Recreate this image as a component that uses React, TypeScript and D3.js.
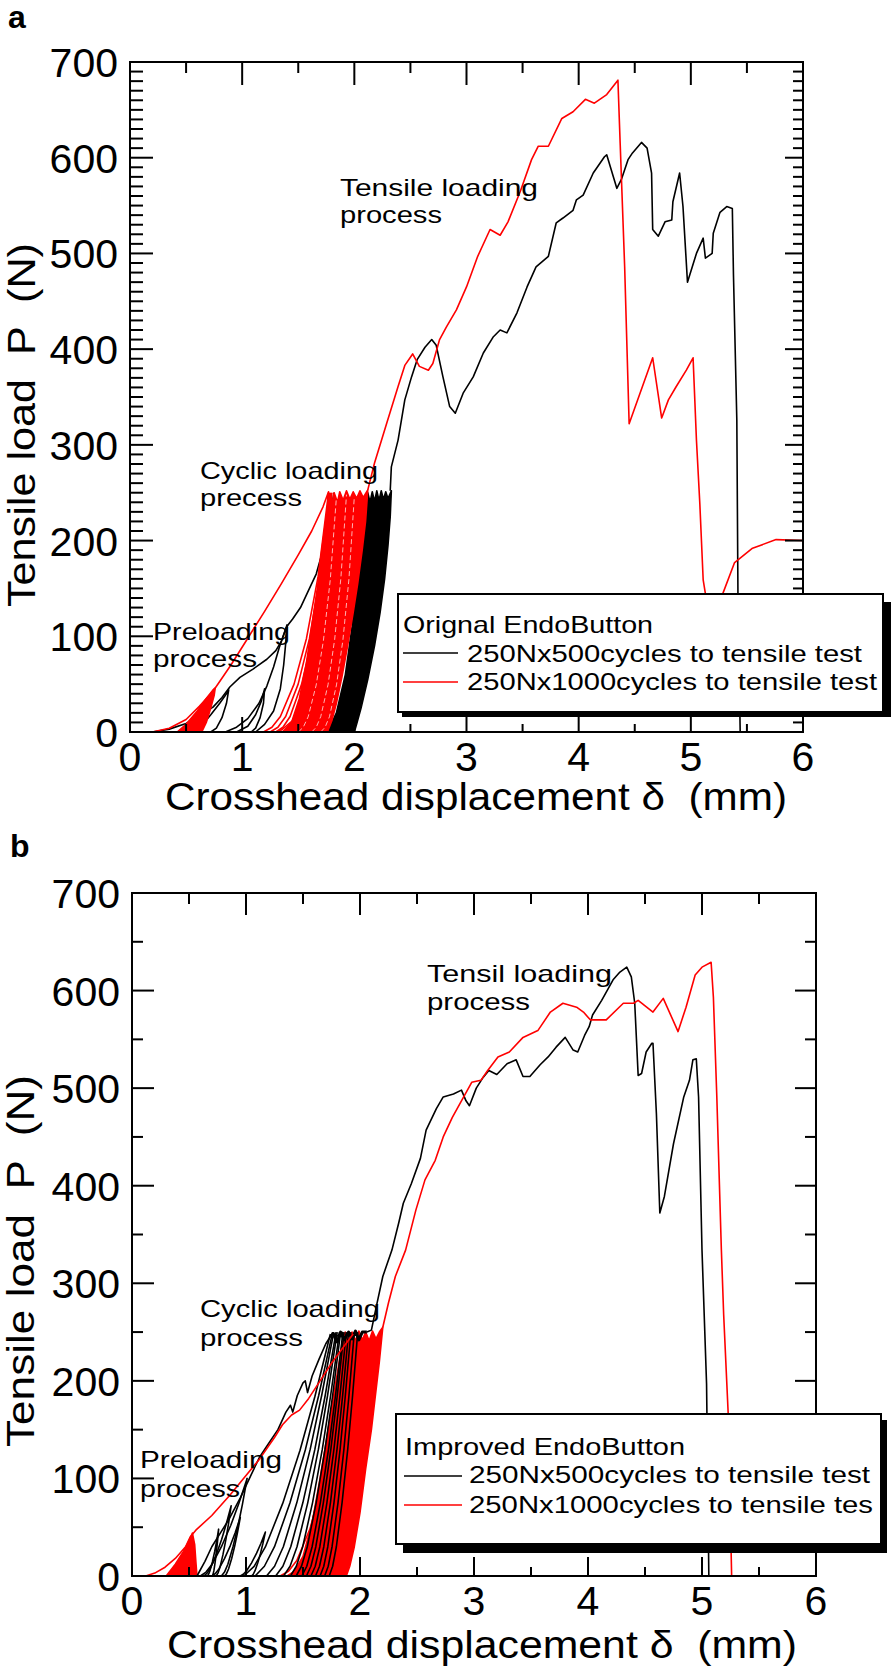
import React from 'react';
import * as d3 from 'd3';

type Pt = [number, number];

// ---------- axes ----------
const X_TICKS = [0, 1, 2, 3, 4, 5, 6];
const X_MINOR = [0.5, 1.5, 2.5, 3.5, 4.5, 5.5];
const Y_TICKS = [0, 100, 200, 300, 400, 500, 600, 700];
const A_Y_MINOR = d3.range(10, 700, 10).filter((v) => v % 100 !== 0);
const B_Y_MINOR = [50, 150, 250, 350, 450, 550, 650];

// normalised shape of one loading branch (fraction of span, fraction of peak)
const CYCLE_SHAPE: Pt[] = [[0, 0], [0.13, 0.02], [0.26, 0.065], [0.47, 0.2], [0.66, 0.39], [0.84, 0.65], [1, 1]];
const STRAIGHT_SHAPE: Pt[] = [[0, 0], [0.12, 0.04], [0.25, 0.12], [0.45, 0.3], [0.65, 0.52], [0.82, 0.74], [1, 1]];

// ---------- panel a : Original EndoButton ----------
const A_BLACK_TENSILE: Pt[] = [
  [2.32, 252], [2.33, 277], [2.39, 305], [2.45, 347], [2.51, 371], [2.56, 389], [2.63, 402], [2.69, 410], [2.73, 404],
  [2.79, 371], [2.85, 340], [2.9, 333], [2.97, 354], [3.06, 371], [3.15, 396], [3.24, 413], [3.3, 420], [3.36, 417],
  [3.45, 438], [3.54, 465], [3.62, 486], [3.73, 497], [3.8, 532], [3.86, 537], [3.95, 545], [3.98, 556], [4.04, 561],
  [4.13, 584], [4.23, 601], [4.25, 603], [4.34, 568], [4.38, 577], [4.44, 598], [4.48, 605], [4.56, 616], [4.61, 610],
  [4.65, 584], [4.66, 525], [4.71, 518], [4.77, 533], [4.83, 535], [4.84, 554], [4.9, 584], [4.93, 549], [4.97, 470],
  [5.05, 500], [5.11, 516], [5.13, 495], [5.19, 500], [5.2, 521], [5.26, 543], [5.32, 549], [5.37, 547], [5.38, 478],
  [5.41, 326], [5.42, 145], [5.44, 0],
];
const A_RED_TENSILE: Pt[] = [
  [2.12, 253], [2.18, 281], [2.29, 323], [2.39, 361], [2.45, 383], [2.52, 395], [2.58, 382], [2.66, 378], [2.7, 385],
  [2.76, 410], [2.82, 423], [2.91, 441], [3.0, 465], [3.1, 497], [3.21, 525], [3.3, 519], [3.37, 533], [3.48, 565],
  [3.58, 598], [3.64, 612], [3.73, 612], [3.85, 641], [3.95, 648], [4.06, 661], [4.14, 657], [4.25, 666], [4.35, 681],
  [4.37, 615], [4.41, 486], [4.45, 322], [4.66, 391], [4.74, 328], [4.8, 347], [4.87, 361], [4.96, 378], [5.02, 391],
  [5.05, 305], [5.08, 239], [5.11, 159], [5.15, 130], [5.2, 128], [5.28, 143], [5.39, 177], [5.55, 192], [5.76, 201],
  [6.0, 200],
];
const A_RED_FIRST: Pt[] = [
  [0, 0], [0.2, 0], [0.35, 4], [0.5, 13], [0.62, 27], [0.72, 40], [0.76, 46], [0.9, 70], [1.05, 98], [1.2, 126],
  [1.35, 155], [1.5, 185], [1.62, 210], [1.72, 235], [1.77, 251], [1.76, 230], [1.74, 200], [1.71, 160], [1.67, 120],
  [1.62, 80], [1.55, 40], [1.45, 12], [1.35, 2], [1.3, 0],
];
const A_RED_PRE: Pt[] = [[0.42, 0], [0.5, 8], [0.6, 22], [0.68, 35], [0.74, 44], [0.76, 46], [0.75, 38], [0.72, 25], [0.68, 10], [0.64, 0]];
const A_RED_BAND_LEFT: Pt[] = [[1.36, 0], [1.44, 10], [1.51, 35], [1.57, 70], [1.62, 110], [1.67, 150], [1.71, 190], [1.75, 225], [1.78, 248]];
const A_RED_BAND_TOP: Pt[] = [[1.8, 238], [1.82, 250], [1.85, 240], [1.87, 251], [1.9, 242], [1.93, 252], [1.96, 243], [1.99, 251], [2.02, 244], [2.05, 252], [2.08, 245], [2.12, 253]];
const A_RED_BAND_RIGHT: Pt[] = [[2.1, 220], [2.07, 190], [2.03, 155], [1.99, 125], [1.94, 90], [1.89, 58], [1.84, 30], [1.8, 12], [1.76, 0]];
const A_BLACK_BAND_LEFT: Pt[] = [[1.76, 0], [1.84, 20], [1.92, 60], [1.98, 110], [2.03, 160], [2.07, 200], [2.1, 235], [2.12, 250]];
const A_BLACK_BAND_TOP: Pt[] = [[2.14, 240], [2.16, 251], [2.18, 241], [2.2, 252], [2.22, 242], [2.24, 252], [2.26, 243], [2.28, 251], [2.3, 244], [2.33, 252]];
const A_BLACK_BAND_RIGHT: Pt[] = [[2.32, 225], [2.3, 195], [2.27, 160], [2.23, 125], [2.18, 90], [2.12, 55], [2.06, 25], [2.02, 8], [2.0, 0]];
const A_RED_CYCLES: number[][] = [[1.19, 1.77, 250], [1.25, 1.78, 250], [1.3, 1.79, 250], [1.36, 1.8, 250]];
const A_WHITE_STREAKS: number[][] = [[1.5, 1.84, 245], [1.62, 1.93, 248], [1.7, 2.0, 246]];
const A_BLACK_PRE_LINES: Pt[][] = [
  [[0.2, 0], [0.35, 3], [0.5, 9], [0.62, 17], [0.74, 26], [0.82, 36], [0.89, 47], [0.98, 57], [1.1, 66], [1.22, 76],
    [1.3, 85], [1.35, 95], [1.39, 108], [1.41, 112], [1.45, 118], [1.52, 130], [1.6, 150], [1.66, 165], [1.72, 190], [1.78, 225], [1.82, 250]],
  [[0.58, 0], [0.65, 8], [0.72, 18], [0.8, 30], [0.86, 40], [0.88, 44], [0.86, 30], [0.82, 15], [0.77, 4], [0.72, 0]],
  [[0.85, 0], [0.95, 5], [1.05, 14], [1.15, 30], [1.22, 48], [1.28, 68], [1.33, 88], [1.38, 105], [1.4, 112], [1.39, 95],
    [1.37, 70], [1.34, 45], [1.28, 22], [1.2, 8], [1.12, 0]],
  [[0.95, 0], [1.05, 6], [1.12, 18], [1.17, 32], [1.2, 45], [1.19, 30], [1.16, 15], [1.12, 4], [1.08, 0]],
];

// ---------- panel b : Improved EndoButton ----------
const B_BLACK_TENSILE: Pt[] = [
  [2.06, 250], [2.1, 252], [2.15, 280], [2.2, 307], [2.28, 334], [2.34, 362], [2.38, 382], [2.45, 402], [2.53, 428],
  [2.58, 457], [2.67, 479], [2.73, 491], [2.82, 494], [2.89, 498], [2.93, 487], [2.96, 482], [3.02, 500], [3.08, 511],
  [3.13, 518], [3.2, 514], [3.29, 525], [3.37, 529], [3.43, 512], [3.49, 512], [3.58, 524], [3.65, 532], [3.72, 542],
  [3.8, 552], [3.87, 539], [3.91, 537], [3.97, 554], [4.01, 563], [4.04, 575], [4.12, 590], [4.22, 611], [4.28, 619],
  [4.34, 624], [4.38, 614], [4.41, 587], [4.44, 513], [4.47, 515], [4.51, 537], [4.56, 546], [4.57, 546], [4.6, 474],
  [4.63, 372], [4.67, 389], [4.75, 443], [4.84, 491], [4.89, 508], [4.92, 529], [4.95, 530], [4.97, 491], [5.0, 334],
  [5.04, 197], [5.06, 0],
];
const B_RED_TENSILE: Pt[] = [
  [2.2, 255], [2.25, 280], [2.31, 307], [2.4, 334], [2.49, 375], [2.57, 406], [2.66, 426], [2.73, 450], [2.81, 470],
  [2.89, 487], [2.98, 506], [3.06, 508], [3.12, 518], [3.21, 532], [3.31, 537], [3.43, 552], [3.56, 559], [3.67, 578],
  [3.78, 587], [3.9, 583], [3.96, 578], [4.02, 570], [4.16, 570], [4.31, 587], [4.4, 587], [4.44, 590], [4.57, 578],
  [4.66, 592], [4.79, 558], [4.86, 583], [4.94, 616], [5.0, 624], [5.08, 629], [5.1, 593], [5.13, 491], [5.17, 334],
  [5.19, 268], [5.23, 166], [5.26, 0],
];
const B_RED_FIRST: Pt[] = [
  [0, 0], [0.12, 0], [0.2, 3], [0.29, 9], [0.38, 18], [0.47, 30], [0.51, 40], [0.56, 47], [0.7, 62], [0.86, 83],
  [1.0, 103], [1.12, 120], [1.25, 142], [1.32, 155], [1.4, 165], [1.47, 170], [1.55, 182], [1.65, 200], [1.75, 218],
  [1.85, 234], [1.94, 248],
];
const B_RED_PRE: Pt[] = [[0.3, 0], [0.38, 12], [0.45, 25], [0.5, 36], [0.53, 44], [0.55, 32], [0.56, 15], [0.57, 0]];
const B_RED_BAND_LEFT: Pt[] = [[1.4, 0], [1.5, 20], [1.58, 55], [1.65, 100], [1.72, 150], [1.79, 200], [1.84, 235], [1.87, 250]];
const B_RED_BAND_TOP: Pt[] = [[1.9, 240], [1.93, 250], [1.96, 241], [1.99, 251], [2.02, 242], [2.05, 250], [2.08, 241], [2.11, 251], [2.14, 243], [2.17, 250], [2.2, 255]];
const B_RED_BAND_RIGHT: Pt[] = [[2.17, 220], [2.14, 190], [2.1, 150], [2.05, 110], [2.0, 65], [1.95, 30], [1.91, 10], [1.88, 0]];
const B_RED_CYCLES: number[][] = [[1.3, 1.86, 245], [1.36, 1.88, 248]];
const B_BLACK_FIRST: Pt[] = [
  [0.57, 0], [0.64, 15], [0.7, 30], [0.78, 45], [0.85, 58], [0.95, 80], [1.05, 105], [1.12, 122], [1.2, 136], [1.28, 150],
  [1.35, 168], [1.39, 175], [1.41, 168], [1.45, 185], [1.5, 198], [1.52, 200], [1.54, 188], [1.58, 205], [1.64, 222],
  [1.7, 238], [1.76, 249], [1.8, 246], [1.85, 250],
];
const B_BLACK_LOOPS: number[][] = [[0.6, 1.01, 100], [0.63, 0.87, 72], [0.66, 0.76, 48], [0.7, 0.95, 60], [0.95, 1.17, 45]];
const B_BLACK_CYCLES: number[][] = [
  [0.98, 1.74, 248], [1.08, 1.76, 250], [1.18, 1.77, 250], [1.26, 1.79, 250], [1.33, 1.8, 250], [1.39, 1.82, 250],
  [1.44, 1.83, 250], [1.49, 1.85, 250], [1.53, 1.86, 250], [1.57, 1.88, 250], [1.61, 1.9, 250], [1.65, 1.92, 250],
  [1.69, 1.95, 250], [1.73, 1.98, 250],
];
const B_BLACK_TOP: Pt[] = [[1.76, 249], [1.8, 240], [1.83, 250], [1.86, 242], [1.9, 250], [1.93, 243], [1.96, 251], [1.99, 242], [2.02, 250], [2.06, 250]];

const FONT = "'Liberation Sans', Arial, Helvetica, sans-serif";
const RED = '#ff0000';

function cycle(c: number[], shape: Pt[], unload?: number): Pt[] {
  const [x0, xp, pk] = c;
  const up: Pt[] = shape.map(([f, g]) => [x0 + f * (xp - x0), g * pk]);
  if (unload === undefined) return up;
  const xr = x0 + unload * (xp - x0);
  const down: Pt[] = shape.slice().reverse().map(([f, g]) => [xr + f * (xp - xr), g * pk]);
  return up.concat(down);
}

type PanelCfg = {
  x: d3.ScaleLinear<number, number>;
  y: d3.ScaleLinear<number, number>;
  yMinor: number[];
  tick: { left: number[]; right: number[]; top: number[]; bottom: number[] };
};

function Axes({ p }: { p: PanelCfg }) {
  const { x, y } = p;
  const L = x(0), R = x(6), T = y(700), B = y(0);
  const els: React.ReactNode[] = [];
  Y_TICKS.forEach((v) => {
    els.push(<line key={'lm' + v} x1={L} x2={L + p.tick.left[0]} y1={y(v)} y2={y(v)} />);
    els.push(<line key={'rm' + v} x1={R} x2={R - p.tick.right[0]} y1={y(v)} y2={y(v)} />);
  });
  p.yMinor.forEach((v) => {
    els.push(<line key={'ln' + v} x1={L} x2={L + p.tick.left[1]} y1={y(v)} y2={y(v)} />);
    els.push(<line key={'rn' + v} x1={R} x2={R - p.tick.right[1]} y1={y(v)} y2={y(v)} />);
  });
  X_TICKS.forEach((v) => {
    els.push(<line key={'tm' + v} x1={x(v)} x2={x(v)} y1={T} y2={T + p.tick.top[0]} />);
    els.push(<line key={'bm' + v} x1={x(v)} x2={x(v)} y1={B} y2={B - p.tick.bottom[0]} />);
  });
  X_MINOR.forEach((v) => {
    els.push(<line key={'tn' + v} x1={x(v)} x2={x(v)} y1={T} y2={T + p.tick.top[1]} />);
    els.push(<line key={'bn' + v} x1={x(v)} x2={x(v)} y1={B} y2={B - p.tick.bottom[1]} />);
  });
  return (
    <g>
      <g stroke="#000" strokeWidth={2}>{els}</g>
      <rect x={L} y={T} width={R - L} height={B - T} fill="none" stroke="#000" strokeWidth={2} />
      <g fontFamily={FONT} fontSize={41} fill="#000">
        {Y_TICKS.map((v) => (
          <text key={'yl' + v} x={L - 12} y={y(v) + 15} textAnchor="end">{v}</text>
        ))}
        {X_TICKS.map((v) => (
          <text key={'xl' + v} x={x(v)} y={B + 39} textAnchor="middle">{v}</text>
        ))}
      </g>
    </g>
  );
}

function T({ x, y, len, size, children, weight }: { x: number; y: number; len?: number; size: number; children: string; weight?: string }) {
  return (
    <text x={x} y={y} fontFamily={FONT} fontSize={size} fontWeight={weight} fill="#000"
      textLength={len} lengthAdjust={len ? 'spacingAndGlyphs' : undefined} style={{ whiteSpace: 'pre' }}>
      {children}
    </text>
  );
}

export default function App() {
  const pa: PanelCfg = {
    x: d3.scaleLinear().domain([0, 6]).range([130, 803]),
    y: d3.scaleLinear().domain([0, 700]).range([732, 62]),
    yMinor: A_Y_MINOR,
    tick: { left: [23, 13], right: [18, 10], top: [23, 11], bottom: [15, 8] },
  };
  const pb: PanelCfg = {
    x: d3.scaleLinear().domain([0, 6]).range([132, 816]),
    y: d3.scaleLinear().domain([0, 700]).range([1576, 893]),
    yMinor: B_Y_MINOR,
    tick: { left: [22, 11], right: [21, 11], top: [22, 11], bottom: [19, 9] },
  };
  const mk = (p: PanelCfg) => d3.line<Pt>().x((d) => p.x(d[0])).y((d) => p.y(d[1]));
  const la = mk(pa);
  const lb = mk(pb);
  const band = (l: d3.Line<Pt>, a: Pt[], b: Pt[], c: Pt[]) => (l([...a, ...b, ...c]) || '') + 'Z';

  return (
    <svg width={894} height={1671} viewBox="0 0 894 1671" style={{ position: 'absolute', left: 0, top: 0, display: 'block', background: '#fff' }}>
      <rect x={0} y={0} width={894} height={1671} fill="#fff" />

      {/* ================= panel a ================= */}
      <T x={8} y={28} size={32} weight="bold">a</T>
      <g fill="none" strokeLinejoin="round" strokeWidth={1.6}>
        <path d={band(la, A_BLACK_BAND_LEFT, A_BLACK_BAND_TOP, A_BLACK_BAND_RIGHT)} fill="#000" stroke="#000" />
        {A_BLACK_PRE_LINES.map((d, i) => <path key={'abp' + i} d={la(d) || ''} stroke="#000" />)}
        <path d={band(la, A_RED_BAND_LEFT, A_RED_BAND_TOP, A_RED_BAND_RIGHT)} fill={RED} stroke={RED} />
        {A_WHITE_STREAKS.map((c, i) => <path key={'aws' + i} d={la(cycle(c, CYCLE_SHAPE)) || ''} stroke="#fff" strokeWidth={0.7} strokeDasharray="5 3" />)}
        <path d={band(la, A_RED_PRE, [], [])} fill={RED} stroke={RED} />
        {A_RED_CYCLES.map((c, i) => <path key={'arc' + i} d={la(cycle(c, CYCLE_SHAPE)) || ''} stroke={RED} />)}
        <path d={la(A_RED_FIRST) || ''} stroke={RED} />
        <path d={la([[0, 0], [1.85, 0]]) || ''} stroke={RED} strokeWidth={2.2} />
        <path d={la(A_BLACK_TENSILE) || ''} stroke="#000" />
        <path d={la(A_RED_TENSILE) || ''} stroke={RED} />
      </g>
      <Axes p={pa} />
      <T x={340} y={196} size={24} len={198}>Tensile loading</T>
      <T x={340} y={223} size={24} len={102}>process</T>
      <T x={200} y={479} size={24} len={178}>Cyclic loading</T>
      <T x={200} y={506} size={24} len={102}>precess</T>
      <T x={153} y={640} size={24} len={137}>Preloading</T>
      <T x={153} y={667} size={24} len={104}>process</T>
      <T x={165} y={810} size={38} len={622}>Crosshead displacement δ  (mm)</T>
      <g transform="translate(35,607) rotate(-90)">
        <T x={0} y={0} size={38} len={364}>Tensile load  P  (N)</T>
      </g>
      {/* legend a */}
      <rect x={402} y={602} width={489} height={115} fill="#000" />
      <rect x={398} y={594} width={485} height={118} fill="#fff" stroke="#000" strokeWidth={2} />
      <T x={403} y={633} size={24} len={250}>Orignal EndoButton</T>
      <line x1={403} x2={458} y1={653} y2={653} stroke="#000" strokeWidth={1.6} />
      <T x={467} y={662} size={24} len={395}>250Nx500cycles to tensile test</T>
      <line x1={403} x2={458} y1={682} y2={682} stroke={RED} strokeWidth={1.6} />
      <T x={467} y={690} size={24} len={410}>250Nx1000cycles to tensile test</T>

      {/* ================= panel b ================= */}
      <T x={10} y={857} size={32} weight="bold">b</T>
      <g fill="none" strokeLinejoin="round" strokeWidth={1.6}>
        <path d={band(lb, B_RED_BAND_LEFT, B_RED_BAND_TOP, B_RED_BAND_RIGHT)} fill={RED} stroke={RED} />
        {B_RED_CYCLES.map((c, i) => <path key={'brc' + i} d={lb(cycle(c, CYCLE_SHAPE)) || ''} stroke={RED} />)}
        <path d={band(lb, B_RED_PRE, [], [])} fill={RED} stroke={RED} />
        {B_BLACK_LOOPS.map((c, i) => <path key={'bbl' + i} d={lb(cycle(c, STRAIGHT_SHAPE, 0.45)) || ''} stroke="#000" />)}
        {B_BLACK_CYCLES.map((c, i) => <path key={'bbc' + i} d={lb(cycle(c, STRAIGHT_SHAPE)) || ''} stroke="#000" />)}
        <path d={lb(B_BLACK_FIRST) || ''} stroke="#000" />
        <path d={lb(B_BLACK_TOP) || ''} stroke="#000" strokeWidth={3} />
        <path d={lb(B_RED_FIRST) || ''} stroke={RED} />
        <path d={lb([[0, 0], [1.9, 0]]) || ''} stroke={RED} strokeWidth={2.2} />
        <path d={lb(B_BLACK_TENSILE) || ''} stroke="#000" />
        <path d={lb(B_RED_TENSILE) || ''} stroke={RED} />
      </g>
      <Axes p={pb} />
      <T x={427} y={982} size={24} len={185}>Tensil loading</T>
      <T x={427} y={1010} size={24} len={103}>process</T>
      <T x={200} y={1317} size={24} len={180}>Cyclic loading</T>
      <T x={200} y={1346} size={24} len={103}>process</T>
      <T x={140} y={1468} size={24} len={142}>Preloading</T>
      <T x={140} y={1497} size={24} len={100}>process</T>
      <T x={167} y={1658} size={38} len={630}>Crosshead displacement δ  (mm)</T>
      <g transform="translate(34,1447) rotate(-90)">
        <T x={0} y={0} size={38} len={372}>Tensile load  P  (N)</T>
      </g>
      {/* legend b */}
      <rect x={403} y={1420} width={484} height={133} fill="#000" />
      <rect x={396} y={1414} width={485} height={130} fill="#fff" stroke="#000" strokeWidth={2} />
      <T x={405} y={1455} size={24} len={280}>Improved EndoButton</T>
      <line x1={404} x2={462} y1={1476} y2={1476} stroke="#000" strokeWidth={1.6} />
      <T x={469} y={1483} size={24} len={401}>250Nx500cycles to tensile test</T>
      <line x1={404} x2={462} y1={1505} y2={1505} stroke={RED} strokeWidth={1.6} />
      <T x={469} y={1513} size={24} len={404}>250Nx1000cycles to tensile tes</T>
    </svg>
  );
}
